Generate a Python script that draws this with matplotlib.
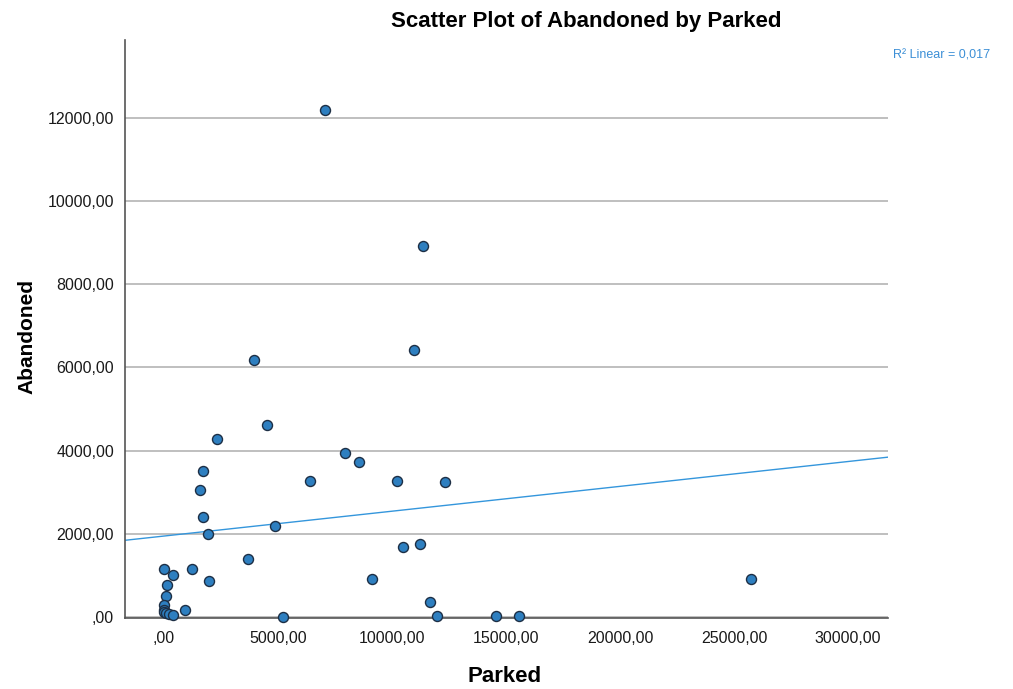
"""
Scatter plot of Abandoned vs Parked with linear fit (SPSS style).
"""
import numpy as np
import matplotlib.pyplot as plt
from matplotlib.ticker import FuncFormatter

parked = [7060, 11350, 10980, 3950, 4500, 2310, 7940, 8570, 1725, 6400,
          10200, 12320, 1580, 1700, 4870, 1940, 10500, 11230, 3670, 9110,
          25745, 0, 410, 1210, 1990, 120, 70, 0, 0, 0, 70, 220, 410, 920,
          5200, 11670, 11960, 14560, 15580]
abandoned = [12180, 8910, 6420, 6180, 4615, 4280, 3935, 3720, 3517, 3277,
             3277, 3250, 3050, 2410, 2190, 1995, 1675, 1755, 1410, 913,
             913, 1170, 1010, 1150, 865, 785, 510, 290, 170, 130, 90, 65,
             50, 185, 0, 368, 30, 30, 20]

# linear fit as reported by the source chart
fit_intercept = 1950
fit_slope = 0.0597

x_ticks = [0, 5000, 10000, 15000, 20000, 25000, 30000]
y_ticks = [0, 2000, 4000, 6000, 8000, 10000, 12000]
r2_label = "R² Linear = 0,017"

plt.rcParams["font.family"] = ["Liberation Sans", "DejaVu Sans"]

fig = plt.figure(figsize=(10.13, 6.89), dpi=100)
ax = fig.add_axes([0.1234, 0.103, 0.7532, 0.839])

x = np.array(parked, dtype=float)
y = np.array(abandoned, dtype=float)

xlim = (-1710, 31750)
ax.set_xlim(*xlim)
ax.set_ylim(-20, 13870)

ax.set_yticks(y_ticks)
ax.set_xticks(x_ticks)
ax.yaxis.grid(True, color="#b4b4b4", lw=1.2)
ax.set_axisbelow(True)

xs = np.array(xlim)
ax.plot(xs, fit_intercept + fit_slope * xs, color="#3496dc", lw=1.0, zorder=2)

ax.scatter(x, y, s=52, color="#2e7fc0", edgecolor="#1d2f45", lw=1.0,
           zorder=3, clip_on=False)


def fmt(v, pos):
    s = f"{v:.2f}".replace(".", ",")
    if s.startswith("0,"):
        s = s[1:]
    return s


ax.xaxis.set_major_formatter(FuncFormatter(fmt))
ax.yaxis.set_major_formatter(FuncFormatter(fmt))
ax.tick_params(axis="both", labelsize=11.5, length=0, labelcolor="#1a1a1a")
ax.tick_params(axis="x", pad=9)
ax.tick_params(axis="y", pad=8)

for side in ("top", "right"):
    ax.spines[side].set_visible(False)
for side in ("left", "bottom"):
    ax.spines[side].set_color("#555555")
    ax.spines[side].set_linewidth(1.2)

fig.text(586 / 1013, 1 - 21 / 689, "Scatter Plot of Abandoned by Parked",
         ha="center", va="center", fontsize=16, fontweight="bold")
fig.text(505 / 1013, 1 - 677 / 689, "Parked", ha="center", va="center",
         fontsize=16, fontweight="bold")
fig.text(27 / 1013, 1 - 337 / 689, "Abandoned", ha="center", va="center",
         rotation=90, fontsize=15, fontweight="bold")
fig.text(893 / 1013, 1 - 56 / 689, r2_label, ha="left", va="center",
         fontsize=9, color="#3c8fd6")

fig.savefig("out.png", dpi=100)
